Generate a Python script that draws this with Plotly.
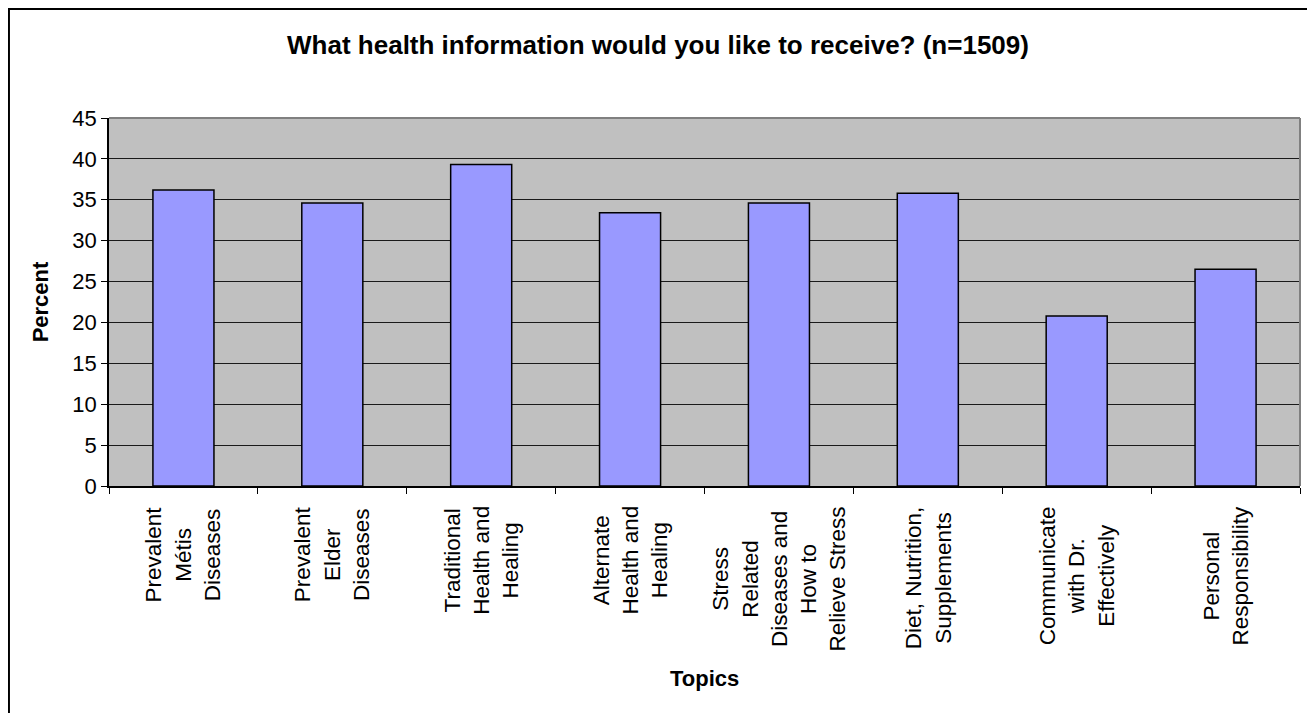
import plotly.graph_objects as go

# Survey data
topics = [
    "Prevalent<br>Métis<br>Diseases",
    "Prevalent<br>Elder<br>Diseases",
    "Traditional<br>Health and<br>Healing",
    "Alternate<br>Health and<br>Healing",
    "Stress<br>Related<br>Diseases and<br>How to<br>Relieve Stress",
    "Diet, Nutrition,<br>Supplements",
    "Communicate<br>with Dr.<br>Effectively",
    "Personal<br>Responsibility",
]
percent = [36.2, 34.6, 39.3, 33.4, 34.6, 35.8, 20.8, 26.5]

y_ticks = [0, 5, 10, 15, 20, 25, 30, 35, 40, 45]

font_family = "Liberation Sans, Arial, sans-serif"

fig = go.Figure()

fig.add_trace(go.Bar(
    x=topics,
    y=percent,
    marker=dict(color="#9999FF", line=dict(color="black", width=1.5)),
    width=0.41,
    showlegend=False,
))

# Category labels, rotated, lines centred (like Excel)
for t in topics:
    fig.add_annotation(
        x=t, y=0, xref="x", yref="paper",
        text=t, textangle=-90, showarrow=False,
        xanchor="center", yanchor="top", align="center",
        yshift=-18,
        font=dict(family=font_family, size=22.5, color="black"),
    )

# Topics axis title
fig.add_annotation(
    x=0.5, y=0, xref="paper", yref="paper",
    text="<b>Topics</b>", showarrow=False,
    xanchor="center", yanchor="middle", yshift=-192,
    font=dict(family=font_family, size=22, color="black"),
)

# gray top/right frame of the plot area
fig.add_shape(type="line", xref="paper", yref="paper", x0=0, x1=1, y0=1, y1=1,
              line=dict(color="#808080", width=2), layer="above")
fig.add_shape(type="line", xref="paper", yref="paper", x0=1, x1=1, y0=0, y1=1,
              line=dict(color="#808080", width=2), layer="above")

# outer chart border
fig.add_shape(type="rect", xref="paper", yref="paper",
              x0=-0.084, x1=1.011, y0=-0.666, y1=1.296,
              line=dict(color="black", width=2), layer="above")

fig.update_layout(
    width=1315, height=713,
    margin=dict(l=101, r=23, t=110, b=235),
    paper_bgcolor="white",
    plot_bgcolor="#C0C0C0",
    font=dict(family=font_family, size=22, color="black"),
    title=dict(
        text="<b>What health information would you like to receive? (n=1509)</b>",
        x=(658 - 8) / 1315, xanchor="center", xref="container",
        y=1 - 37 / 713, yanchor="middle",
        font=dict(family=font_family, size=26, color="black"),
    ),
    bargap=0.59,
    xaxis=dict(
        showticklabels=False,
        ticks="outside", ticklen=6, tickcolor="black", tickwidth=1,
        tickson="boundaries",
        showline=True, linecolor="black", linewidth=1.5,
        showgrid=False, zeroline=False,
    ),
    yaxis=dict(
        title=dict(text="<b>Percent</b>", standoff=18,
                   font=dict(family=font_family, size=22)),
        range=[0, 45],
        tickvals=y_ticks,
        ticks="outside", ticklen=6, tickcolor="black", tickwidth=1,
        showline=True, linecolor="black", linewidth=1.5,
        showgrid=True, gridcolor="#1a1a1a", gridwidth=1,
        zeroline=False,
        tickfont=dict(family=font_family, size=22),
    ),
)

fig.write_html("out.html")
